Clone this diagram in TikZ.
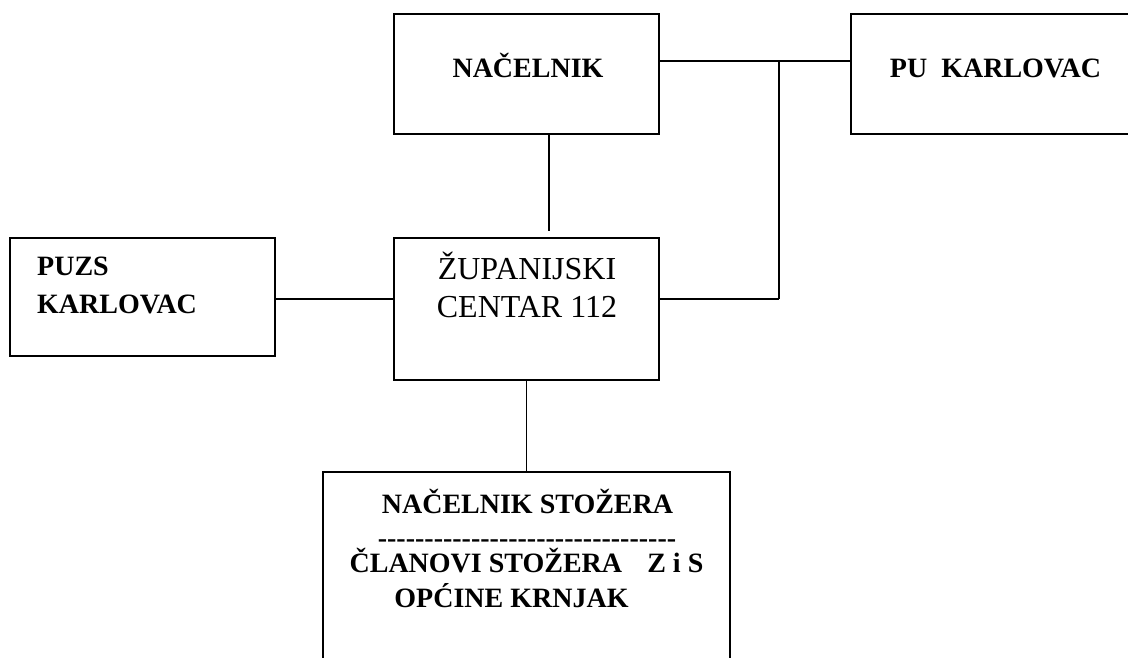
\documentclass[tikz,border=0pt]{standalone}
\usepackage{fontspec}
\setmainfont{Liberation Serif}

\begin{document}
\begin{tikzpicture}[x=1pt,y=-1pt,
    box node/.style={rectangle,draw,line width=1.6pt,inner sep=0pt},
    bold text/.style={inner sep=0pt,anchor=base,font=\fontsize{28}{34}\selectfont\bfseries},
    plain text/.style={inner sep=0pt,anchor=base,font=\fontsize{32}{38}\selectfont},
    conn/.style={draw,line width=1.3pt}]

    \useasboundingbox (0,0) rectangle (1128,657);
    \clip (0,0) rectangle (1128,657);

		\node[box node][minimum width=265pt,minimum height=120pt](nac) at (526.5,74){};
		\node[box node][minimum width=300pt,minimum height=120pt](pu) at (1001,74){};
		\node[box node][minimum width=265pt,minimum height=118pt](puzs) at (142.5,297){};
		\node[box node][minimum width=265pt,minimum height=142pt](zup) at (526.5,309){};
		\node[box node][minimum width=407pt,minimum height=228pt](stozer) at (526.5,586){};

		\node[bold text](nactxt) at (528,77){NAČELNIK};
		\node[bold text](putxt) at (995.5,77){PU\ \ KARLOVAC};
		\node[bold text][anchor=base west](puzstxt) at (37,275){PUZS};
		\node[bold text][anchor=base west](karltxt) at (37,313){KARLOVAC};
		\node[plain text](zuptxt) at (527,279){ŽUPANIJSKI};
		\node[plain text](centxt) at (527,317){CENTAR 112};
		\node[bold text](stoztxt) at (527.5,513){NAČELNIK STOŽERA};
		\node[bold text](dashtxt) at (527,547){\foreach \i in {1,...,32}{-\kern0pt}};
		\node[bold text](clantxt) at (526.5,572){ČLANOVI STOŽERA\hspace{0.9em}Z i S};
		\node[bold text](opctxt) at (511.5,607){OPĆINE KRNJAK};

		\coordinate (jtop) at (779,61);
		\coordinate (jbot) at (779,299);
		\coordinate (naclow) at (549,231);

		\path [conn] (nac.east |- jtop) edge (pu.west |- jtop);
		\path [conn] (jtop) edge (jbot);
		\path [conn] (jbot) edge (zup.east |- jbot);
		\path [conn] (puzs.east |- jbot) edge (zup.west |- jbot);
		\path [conn] (nac.south -| naclow) edge (naclow);
		\path [conn] (zup.south) edge (stozer.north);

\end{tikzpicture}
\end{document}
